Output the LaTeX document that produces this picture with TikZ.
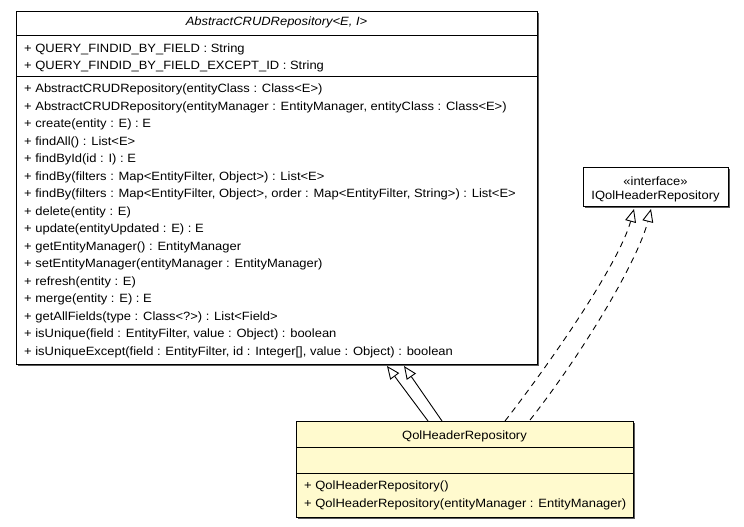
\documentclass[tikz,border=0pt]{standalone}
\usepackage{fontspec}
\setmainfont[FakeStretch=1.08]{Liberation Sans}
\usetikzlibrary{arrows.meta,calc}
\definecolor{classyellow}{RGB}{255,250,206}
\definecolor{shadowgray}{RGB}{90,90,90}
\tikzset{
  umlbox/.style={draw=black, line width=1pt, fill=white, anchor=north west, inner sep=0pt},
  member/.style={anchor=base west, inner sep=0pt, font=\fontsize{12}{14}\selectfont},
  heading/.style={anchor=base, inner sep=0pt, font=\fontsize{12}{14}\selectfont},
  divider/.style={line width=1pt},
  shadow/.style={fill=shadowgray, draw=none},
  generalize/.style={line width=0.9pt, -{Triangle[open, length=13pt, width=11pt, fill=white]}},
  realize/.style={line width=0.9pt, dash pattern=on 6pt off 5pt, -{Triangle[open, length=13pt, width=11pt, fill=white]}}
}
\begin{document}
\begin{tikzpicture}[x=1pt, y=-1pt]
\useasboundingbox (0,0) rectangle (744,527);

% ---- AbstractCRUDRepository ----
\fill[shadow] (18,13) rectangle (539,366);
\node[umlbox, minimum width=521pt, minimum height=353pt] (abs) at (16,11) {};
\draw[divider] (16,36) -- (537,36);
\draw[divider] (16,76) -- (537,76);
\node[heading] (abstitle) at (276.5,25.5) {\itshape AbstractCRUDRepository<E, I>};
\node[member] (absa1) at (24,52.5) {+ QUERY\_FINDID\_BY\_FIELD : String};
\node[member] (absa2) at (24,70) {+ QUERY\_FINDID\_BY\_FIELD\_EXCEPT\_ID : String};
\foreach \txt [count=\i] in {
  {+ AbstractCRUDRepository(entityClass : Class<E>)},
  {+ AbstractCRUDRepository(entityManager : EntityManager, entityClass : Class<E>)},
  {+ create(entity : E) : E},
  {+ findAll() : List<E>},
  {+ findById(id : I) : E},
  {+ findBy(filters : Map<EntityFilter, Object>) : List<E>},
  {+ findBy(filters : Map<EntityFilter, Object>, order : Map<EntityFilter, String>) : List<E>},
  {+ delete(entity : E)},
  {+ update(entityUpdated : E) : E},
  {+ getEntityManager() : EntityManager},
  {+ setEntityManager(entityManager : EntityManager)},
  {+ refresh(entity : E)},
  {+ merge(entity : E) : E},
  {+ getAllFields(type : Class<?>) : List<Field>},
  {+ isUnique(field : EntityFilter, value : Object) : boolean},
  {+ isUniqueExcept(field : EntityFilter, id : Integer[], value : Object) : boolean}}
{
  \node[member] (absm\i) at (24,{92.5+17.53*(\i-1)}) {\txt};
}

% ---- IQolHeaderRepository ----
\fill[shadow] (585,169) rectangle (730,208);
\node[umlbox, minimum width=145pt, minimum height=39pt] (iface) at (583,167) {};
\node[heading] (ifacest) at (655.5,185) {«interface»};
\node[heading] (ifacename) at (655.5,199.5) {IQolHeaderRepository};

% ---- QolHeaderRepository ----
\fill[shadow] (298,423) rectangle (635,519);
\node[umlbox, fill=classyellow, minimum width=337pt, minimum height=96pt] (qol) at (296,421) {};
\draw[divider] (296,447) -- (633,447);
\draw[divider] (296,473) -- (633,473);
\node[heading] (qoltitle) at (464.5,439.5) {QolHeaderRepository};
\node[member] (qolm1) at (304,489.5) {+ QolHeaderRepository()};
\node[member] (qolm2) at (304,507) {+ QolHeaderRepository(entityManager : EntityManager)};

% ---- connector end points ----
\coordinate (g1s) at ($(qol.north west)+(132,0)$);
\coordinate (g2s) at ($(qol.north west)+(146,0)$);
\coordinate (g1e) at ($(abs.south west)+(371,1)$);
\coordinate (g2e) at ($(abs.south west)+(388,1)$);
\coordinate (r1s) at ($(qol.north west)+(209,0)$);
\coordinate (r2s) at ($(qol.north west)+(234,-1)$);
\coordinate (r1e) at ($(iface.south west)+(51,2)$);
\coordinate (r2e) at ($(iface.south west)+(68,2)$);

% generalization
\draw[generalize] (g1s) -- (g1e);
\draw[generalize] (g2s) -- (g2e);

% realization
\draw[realize] (r1s) .. controls (560,350) and (620,260) .. (r1e);
\draw[realize] (r2s) .. controls (585,350) and (638,260) .. (r2e);
\end{tikzpicture}
\end{document}
